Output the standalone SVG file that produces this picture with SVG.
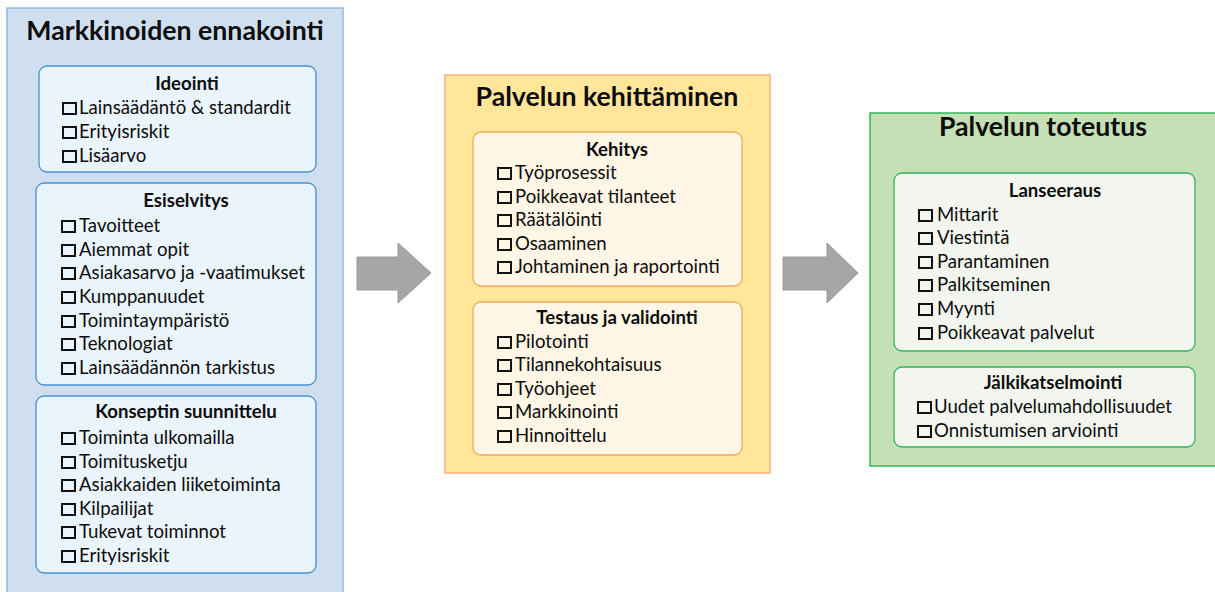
<svg xmlns="http://www.w3.org/2000/svg" width="1215" height="592" viewBox="0 0 1215 592">
<defs>
<style>
text{font-family:Lato,"Liberation Sans",sans-serif;fill:#0d0d0d;}
.h1{font-size:26.7px;font-weight:bold;text-anchor:middle;}
.h2{font-size:18.6px;font-weight:bold;text-anchor:middle;}
.it{font-size:18.6px;}
.cb{fill:none;stroke:#111;stroke-width:2;}
.pb{fill:#cfdff0;stroke:#8fbbe3;stroke-width:1.5;}
.ib{fill:#eaf4fc;stroke:#4a90d0;stroke-width:1.3;}
.po{fill:#ffe699;stroke:#f4b183;stroke-width:1.5;}
.io{fill:#fff6e5;stroke:#f5a860;stroke-width:1.3;}
.pg{fill:#c5e0b4;stroke:#33b55a;stroke-width:1.5;}
.ig{fill:#f3f6f0;stroke:#33b55a;stroke-width:1.3;}
.ar{fill:#a6a6a6;stroke:#999;stroke-width:1;}
</style>
</defs>
<rect width="1215" height="592" fill="#fff"/>

<g id="markkinoiden-ennakointi">
<rect class="pb" x="7" y="8" width="336" height="600"/>
<text class="h1" x="175" y="40">Markkinoiden ennakointi</text>
</g>

<g id="ideointi">
<rect class="ib" x="39" y="66" width="277" height="106" rx="8"/>
<text class="h2" x="187" y="90">Ideointi</text>
<rect class="cb" x="63" y="103" width="13" height="11"/><text class="it" x="79" y="114">Lainsäädäntö &amp; standardit</text>
<rect class="cb" x="63" y="127" width="13" height="11"/><text class="it" x="79" y="138">Erityisriskit</text>
<rect class="cb" x="63" y="151" width="13" height="11"/><text class="it" x="79" y="162">Lisäarvo</text>
</g>

<g id="esiselvitys">
<rect class="ib" x="36" y="183" width="280" height="202" rx="8"/>
<text class="h2" x="186" y="207">Esiselvitys</text>
<rect class="cb" x="62" y="221" width="13" height="11"/><text class="it" x="79" y="232">Tavoitteet</text>
<rect class="cb" x="62" y="245" width="13" height="11"/><text class="it" x="79" y="256">Aiemmat opit</text>
<rect class="cb" x="62" y="268" width="13" height="11"/><text class="it" x="79" y="279">Asiakasarvo ja -vaatimukset</text>
<rect class="cb" x="62" y="292" width="13" height="11"/><text class="it" x="79" y="303">Kumppanuudet</text>
<rect class="cb" x="62" y="316" width="13" height="11"/><text class="it" x="79" y="327">Toimintaympäristö</text>
<rect class="cb" x="62" y="339" width="13" height="11"/><text class="it" x="79" y="350">Teknologiat</text>
<rect class="cb" x="62" y="363" width="13" height="11"/><text class="it" x="79" y="374">Lainsäädännön tarkistus</text>
</g>

<g id="konseptin-suunnittelu">
<rect class="ib" x="36" y="396" width="280" height="177" rx="8"/>
<text class="h2" x="186" y="418">Konseptin suunnittelu</text>
<rect class="cb" x="62" y="433" width="13" height="11"/><text class="it" x="79" y="444">Toiminta ulkomailla</text>
<rect class="cb" x="62" y="457" width="13" height="11"/><text class="it" x="79" y="468">Toimitusketju</text>
<rect class="cb" x="62" y="480" width="13" height="11"/><text class="it" x="79" y="491">Asiakkaiden liiketoiminta</text>
<rect class="cb" x="62" y="504" width="13" height="11"/><text class="it" x="79" y="515">Kilpailijat</text>
<rect class="cb" x="62" y="527" width="13" height="11"/><text class="it" x="79" y="538">Tukevat toiminnot</text>
<rect class="cb" x="62" y="551" width="13" height="11"/><text class="it" x="79" y="562">Erityisriskit</text>
</g>

<g id="palvelun-kehittaminen">
<rect class="po" x="445" y="75" width="325" height="398"/>
<text class="h1" x="607" y="106">Palvelun kehittäminen</text>
</g>

<g id="kehitys">
<rect class="io" x="473" y="132" width="269" height="154" rx="8"/>
<text class="h2" x="617" y="156">Kehitys</text>
<rect class="cb" x="498" y="168" width="13" height="11"/><text class="it" x="515" y="179">Työprosessit</text>
<rect class="cb" x="498" y="192" width="13" height="11"/><text class="it" x="515" y="203">Poikkeavat tilanteet</text>
<rect class="cb" x="498" y="215" width="13" height="11"/><text class="it" x="515" y="226">Räätälöinti</text>
<rect class="cb" x="498" y="239" width="13" height="11"/><text class="it" x="515" y="250">Osaaminen</text>
<rect class="cb" x="498" y="262" width="13" height="11"/><text class="it" x="515" y="273">Johtaminen ja raportointi</text>
</g>

<g id="testaus-ja-validointi">
<rect class="io" x="473" y="302" width="269" height="153" rx="8"/>
<text class="h2" x="617" y="324">Testaus ja validointi</text>
<rect class="cb" x="498" y="337" width="13" height="11"/><text class="it" x="515" y="348">Pilotointi</text>
<rect class="cb" x="498" y="360" width="13" height="11"/><text class="it" x="515" y="371">Tilannekohtaisuus</text>
<rect class="cb" x="498" y="384" width="13" height="11"/><text class="it" x="515" y="395">Työohjeet</text>
<rect class="cb" x="498" y="407" width="13" height="11"/><text class="it" x="515" y="418">Markkinointi</text>
<rect class="cb" x="498" y="431" width="13" height="11"/><text class="it" x="515" y="442">Hinnoittelu</text>
</g>

<g id="palvelun-toteutus">
<rect class="pg" x="870" y="113" width="360" height="353"/>
<text class="h1" x="1043" y="136">Palvelun toteutus</text>
</g>

<g id="lanseeraus">
<rect class="ig" x="894" y="173" width="301" height="178" rx="8"/>
<text class="h2" x="1055" y="197">Lanseeraus</text>
<rect class="cb" x="919" y="210" width="13" height="11"/><text class="it" x="937" y="221">Mittarit</text>
<rect class="cb" x="919" y="233" width="13" height="11"/><text class="it" x="937" y="244">Viestintä</text>
<rect class="cb" x="919" y="257" width="13" height="11"/><text class="it" x="937" y="268">Parantaminen</text>
<rect class="cb" x="919" y="280" width="13" height="11"/><text class="it" x="937" y="291">Palkitseminen</text>
<rect class="cb" x="919" y="304" width="13" height="11"/><text class="it" x="937" y="315">Myynti</text>
<rect class="cb" x="919" y="328" width="13" height="11"/><text class="it" x="937" y="339">Poikkeavat palvelut</text>
</g>

<g id="jalkikatselmointi">
<rect class="ig" x="894" y="367" width="301" height="80" rx="8"/>
<text class="h2" x="1053" y="389">Jälkikatselmointi</text>
<rect class="cb" x="918" y="402" width="13" height="11"/><text class="it" x="934" y="413">Uudet palvelumahdollisuudet</text>
<rect class="cb" x="918" y="426" width="13" height="11"/><text class="it" x="934" y="437">Onnistumisen arviointi</text>
</g>

<g id="connectors">
<polygon class="ar" points="357,257 398,257 398,243 431,273 398,303 398,290 357,290"/>
<polygon class="ar" points="783,257 827,257 827,243 858,273 827,303 827,290 783,290"/>
</g>
</svg>
